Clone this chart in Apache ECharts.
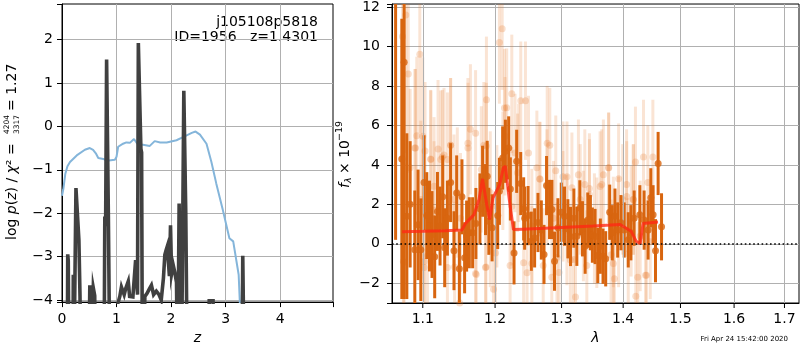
<!DOCTYPE html>
<html>
<head>
<meta charset="utf-8">
<script src="https://cdn.jsdelivr.net/npm/echarts@6/dist/echarts.min.js"></script>
<style>
  html, body { margin: 0; padding: 0; background: #fff; }
  #chart { width: 800px; height: 350px; }
</style>
</head>
<body>
<div id="chart"></div>
<script>
// ---- left panel: log p(z) and scaled chi2 ----
const pzZ = [0.00, 0.095, 0.105, 0.115, 0.13, 0.20, 0.207, 0.215, 0.245, 0.256, 0.29, 0.31, 0.33, 0.35,
  0.49, 0.51, 0.53, 0.56, 0.574, 0.60, 0.615, 0.77, 0.785, 0.80, 0.818, 0.836, 0.85, 0.867, 0.88,
  1.00, 1.02, 1.06, 1.09, 1.14, 1.17, 1.215, 1.24, 1.30, 1.33, 1.35, 1.37, 1.385, 1.40, 1.43, 1.447, 1.46, 1.475,
  1.50, 1.52, 1.56, 1.60, 1.64, 1.68, 1.73, 1.78, 1.82, 1.86, 1.886, 1.91, 1.93, 1.97, 1.99, 2.01, 2.04, 2.07, 2.10, 2.12,
  2.14, 2.148, 2.17, 2.19, 2.22, 2.234, 2.255, 2.27, 2.28, 2.30, 2.68, 2.70, 2.77, 2.78, 3.30, 3.315, 3.33, 3.345]
const pzLog = [-6, -6, -2.95, -3.1, -6, -6, -3.42, -6, -6, -1.42, -1.40, -2.62, -3.9, -6,
  -6, -3.66, -6, -6, -3.72, -3.9, -6, -6, -2.08, -2.3, 1.54, 1.54, -2.0, -2.01, -6,
  -6, -4.1, -3.92, -3.7, -3.88, -3.73, -3.57, -3.92, -3.93, -3.9, -3.08, -3.1, -3.88, 1.92, 1.92, -0.52, -0.6, -6,
  -6, -3.92, -3.85, -3.75, -3.66, -3.88, -3.8, -3.88, -4.0, -3.5, -2.96, -2.85, -2.77, -3.45, -2.28, -3.4, -3.2, -3.37, -3.6, -6,
  -6, -1.78, -1.8, -6, -6, 0.82, 0.82, -2.0, -2.0, -6, -6, -4.02, -4.02, -6, -6, -2.98, -2.98, -6]

const chiZ = [0.00, 0.024, 0.06, 0.10, 0.147, 0.27, 0.42, 0.51, 0.57, 0.62, 0.665, 0.757, 0.82, 0.97, 1.00, 1.03,
  1.12, 1.18, 1.245, 1.32, 1.38, 1.46, 1.61, 1.70, 1.80, 1.92, 2.10, 2.22, 2.38, 2.45, 2.53, 2.65, 2.74, 2.83,
  2.95, 3.07, 3.14, 3.24, 3.28]
const chiScaled = [-1.6, -1.45, -1.1, -0.92, -0.82, -0.67, -0.54, -0.50, -0.54, -0.62, -0.73, -0.75, -0.79, -0.77, -0.7, -0.47,
  -0.40, -0.37, -0.38, -0.29, -0.40, -0.42, -0.45, -0.34, -0.37, -0.37, -0.32, -0.25, -0.15, -0.12, -0.19, -0.40, -0.82, -1.32,
  -1.93, -2.58, -2.65, -3.42, -4.6]

// ---- right panel: spectrum ----
const lamDark = [1.0646, 1.0726, 1.0756, 1.0791, 1.0834, 1.0895, 1.0938, 1.0974, 1.1017, 1.1053, 1.1089, 1.1123, 1.1159,
  1.1196, 1.1231, 1.1267, 1.1294, 1.1331, 1.1375, 1.1421, 1.1458, 1.1495, 1.1531, 1.1568, 1.1596, 1.1634, 1.1680,
  1.1726, 1.1783, 1.1821, 1.1863, 1.1887, 1.1910, 1.1957, 1.2038, 1.2063, 1.2110, 1.2150, 1.2198, 1.2223, 1.2277,
  1.2316, 1.2376, 1.2420, 1.2435, 1.2486, 1.2535, 1.2585, 1.2636, 1.2687, 1.2728, 1.2767, 1.2813, 1.2850, 1.2890,
  1.2943, 1.2995, 1.3046, 1.3099, 1.3140, 1.3194, 1.3241, 1.3289, 1.3331, 1.3374, 1.3417, 1.3459, 1.3491, 1.3535,
  1.3579, 1.3621, 1.3665, 1.3709, 1.3775, 1.3818, 1.3863, 1.3908, 1.3963, 1.4018, 1.4086, 1.4131, 1.4187, 1.4284,
  1.4358, 1.4427, 1.4474, 1.4514, 1.4556, 1.4602, 1.4662]
const fluxDark = [13.0, 4.3, 9.2, 1.4, 2.0, -0.3, 0.96, -0.3, 3.1, 1.43, 0.9, 0.47, -0.66,
  1.64, 0.9, 2.38, -0.2, 1.3, 3.1, -0.35, 2.58, -1.27, 2.38, -0.71, 0.39, 0.56, 0.56,
  1.03, 1.77, 3.17, 2.24, 3.42, 1.14, 0.81, 1.43, 2.66, 4.35, 4.69, 4.86, 2.78, -0.46,
  4.18, 3.05, 1.77, 1.3, 1.43, 0.13, 0.3, 1.08, 0.7, -0.54, 2.95, 1.74, 1.74, -0.88,
  0.81, 1.6, 1.4, 0.76, 0.37, 1.3, 0.38, 1.82, 0.76, -0.12, 1.2, 1.07, 0.44, 0.37,
  -0.59, -0.12, -0.63, -0.76, 1.6, 0.56, 1.4, 0.7, 1.07, 0.7, 0.2, 0.56, 1.3, 1.47,
  1.2, 0.7, 2.33, 1.47, -0.35, 4.07, 0.86]
const errDark = [12.8, 7.1, 12.0, 4.2, 3.2, 3.0, 2.8, 2.6, 2.4, 2.2, 2.3, 2.2, 2.1,
  2.0, 2.0, 2.1, 2.0, 1.9, 2.0, 2.0, 1.9, 1.9, 1.9, 1.8, 1.8, 1.8, 1.8,
  1.8, 1.8, 1.8, 1.8, 1.8, 1.7, 1.7, 1.7, 1.7, 1.6, 1.6, 1.6, 1.6, 1.6,
  1.6, 1.6, 1.6, 1.6, 1.5, 1.5, 1.5, 1.5, 1.5, 1.5, 1.5, 1.5, 1.5, 1.5,
  1.5, 1.5, 1.5, 1.5, 1.5, 1.5, 1.5, 1.4, 1.4, 1.4, 1.4, 1.4, 1.4, 1.4,
  1.4, 1.4, 1.4, 1.4, 1.4, 1.4, 1.4, 1.4, 1.4, 1.4, 1.4, 1.4, 1.4, 1.5,
  1.5, 1.5, 1.5, 1.5, 1.6, 1.6, 1.7]

const lamLight = [1.0735, 1.0778, 1.0810, 1.0747, 1.0834, 1.0895, 1.0961, 1.1000, 1.1030, 1.1020, 1.1106, 1.1150,
  1.1204, 1.1240, 1.1285, 1.1331, 1.1375, 1.1430, 1.1467, 1.1500, 1.1615, 1.1649, 1.1731, 1.1803, 1.1839, 1.1876,
  1.1870, 1.1931, 1.1978, 1.2026, 1.2063, 1.2103, 1.2113, 1.2145, 1.2169, 1.2219, 1.2244, 1.2292, 1.2328, 1.2377,
  1.2447, 1.2493, 1.2543, 1.2619, 1.2665, 1.2716, 1.2777, 1.2817, 1.2848, 1.2909, 1.2960, 1.3022, 1.3085, 1.3138,
  1.3220, 1.3295, 1.3369, 1.3443, 1.3524, 1.3617, 1.3671, 1.3758, 1.3798, 1.3853, 1.3924, 1.3992, 1.4060, 1.4135,
  1.4174, 1.4209, 1.4248, 1.4215, 1.4290, 1.4347, 1.4382, 1.4422, 1.4464, 1.4510,
  1.0921, 1.0904, 1.1106, 1.1263, 1.1375, 1.1614, 1.1722, 1.1873, 1.2136, 1.2346, 1.2665, 1.2774, 1.3022, 1.3163,
  1.3266, 1.3443, 1.3644, 1.3758, 1.3924, 1.4058,
  1.0756, 1.1017, 1.1062, 1.1331, 1.1721, 1.1863, 1.2006, 1.2420, 1.2471, 1.2928, 1.3188, 1.3401, 1.3836, 1.4086, 1.4399,
  1.0974, 1.1150, 1.1421, 1.1511, 1.1931, 1.2244, 1.2543, 1.2875, 1.3084, 1.3346, 1.3563, 1.3836, 1.4170]
const fluxLight = [10.5, 11.6, 8.6, -0.9, 3.85, 4.86, 9.6, 5.45, 4.7, -0.9, 4.27, 2.92,
  4.8, 4.27, 4.5, 4.27, 5.0, -1.17, 2.6, -3.0, 4.86, 5.8, -1.55, 3.77, 5.0, 7.3,
  -1.17, 2.6, -2.3, 1.9, 10.2, 10.9, 3.7, 5.45, 6.9, -1.1, 7.6, 4.6, 3.6, 7.25,
  7.25, 4.6, -1.0, 3.85, 3.27, -1.1, 5.1, 5.0, -1.7, 3.7, -1.46, 1.9, 3.4, -0.82,
  -2.7, 2.25, 3.0, 2.5, 0.77, 2.9, 3.5, 3.85, -0.56, -1.77, 0.6, 2.25, 2.4, 1.14,
  2.25, 4.15, -1.7, -2.66, 0.4, 4.4, -1.6, 3.1, 0.1, 4.4,
  5.48, 4.86, 4.3, 4.4, 5.0, 5.1, 5.6, 4.96, 6.88, 4.1, 3.29, 2.9, 3.4, 2.84,
  3.5, 2.8, 3.0, 3.85, 3.3, 3.0,
  -0.93, -1.2, -0.6, -1.2, -1.5, -1.2, -0.46, -0.96, -1.47, -0.7, -0.8, -1.1, -1.0, -0.5, -1.6,
  2.24, 1.7, 2.24, 1.3, 0.9, 1.9, 0.9, 1.3, 0.7, 0.9, 0.56, 0.6, 2.24]
const errLight = [6.0, 7.0, 5.0, 5.0, 4.0, 4.0, 4.0, 4.0, 3.5, 3.5, 3.5, 3.5,
  3.5, 3.5, 3.4, 3.4, 3.4, 3.3, 3.3, 3.3, 3.3, 3.3, 3.2, 3.2, 3.2, 3.2,
  3.2, 3.1, 3.1, 3.1, 3.1, 3.1, 3.0, 3.0, 3.0, 3.0, 3.0, 3.0, 3.0, 3.0,
  3.0, 2.9, 2.9, 2.9, 2.9, 2.9, 2.9, 2.9, 2.9, 2.8, 2.8, 2.8, 2.8, 2.8,
  2.8, 2.8, 2.8, 2.8, 2.8, 2.8, 2.8, 2.8, 2.8, 2.8, 2.8, 2.8, 2.8, 2.8,
  2.8, 2.8, 2.8, 2.8, 2.8, 2.9, 2.9, 2.9, 2.9, 2.9,
  4.0, 4.0, 3.5, 3.4, 3.4, 3.3, 3.2, 3.2, 3.0, 3.0, 2.9, 2.9, 2.8, 2.8,
  2.8, 2.8, 2.8, 2.8, 2.8, 2.8,
  5.0, 3.5, 3.5, 3.4, 3.2, 3.2, 3.1, 2.9, 2.9, 2.8, 2.8, 2.8, 2.8, 2.8, 2.9,
  4.0, 3.5, 3.3, 3.3, 3.1, 3.0, 2.9, 2.9, 2.8, 2.8, 2.8, 2.8, 2.8]

const lamModel = [1.073, 1.10, 1.13, 1.153, 1.158, 1.170, 1.177, 1.182, 1.188, 1.192, 1.197, 1.2067, 1.212, 1.215,
  1.2207, 1.2268, 1.24, 1.30, 1.35, 1.395, 1.4135, 1.422, 1.429, 1.434, 1.46]
const fluxModel = [0.61, 0.63, 0.66, 0.70, 1.03, 1.48, 2.24, 3.29, 1.99, 1.23, 2.33, 3.0, 3.85, 3.93,
  2.24, 0.72, 0.74, 0.83, 0.9, 0.98, 0.64, 0.13, 0.02, 1.03, 1.1]

const lamTicks = [1.1, 1.2, 1.3, 1.4, 1.5, 1.6, 1.7]

const FONT = 'DejaVu Sans'
const GRID_GRAY = '#b0b0b0'
const DARK = '#d8650f'

function intLabel(step) {
  return (v) => {
    const r = Math.round(v)
    if (Math.abs(v - r) > 1e-6 || r % step !== 0) return ''
    return String(r).replace('-', '\u2212')
  }
}

function axisBase() {
  return {
    axisLine: { show: true, onZero: false, lineStyle: { color: '#000', width: 1 } },
    axisTick: { show: true, length: 5, lineStyle: { color: '#000', width: 1 } },
    axisLabel: { color: '#000', fontSize: 14, fontFamily: FONT },
    splitLine: { show: true, showMinLine: false, showMaxLine: false, lineStyle: { color: GRID_GRAY, width: 1 } },
  }
}

/** error bars drawn as thin rects, clipped to the grid */
function errorBars(lam, flux, err, color, width, z) {
  return {
    type: 'custom',
    xAxisIndex: 1,
    yAxisIndex: 1,
    z,
    silent: true,
    animation: false,
    encode: { x: 0, y: [1, 2] },
    data: lam.map((l, i) => [l, flux[i] - err[i], flux[i] + err[i]]),
    renderItem(params, api) {
      const x = api.value(0)
      const lo = api.coord([x, api.value(1)])
      const hi = api.coord([x, api.value(2)])
      const cs = params.coordSys
      const shape = echarts.graphic.clipRectByRect(
        { x: lo[0] - width / 2, y: hi[1], width, height: lo[1] - hi[1] },
        { x: cs.x, y: cs.y, width: cs.width, height: cs.height },
      )
      return shape && { type: 'rect', shape, style: { fill: color } }
    },
  }
}

const chart = echarts.init(document.getElementById('chart'), null, { renderer: 'canvas' })

const option = {
  animation: false,
  textStyle: { fontFamily: FONT },
  grid: [
    { left: 62, top: 4, width: 271, height: 300, show: true, borderColor: '#000', borderWidth: 1, backgroundColor: 'transparent' },
    { left: 392, top: 4, width: 407, height: 300, show: true, borderColor: '#000', borderWidth: 1, backgroundColor: 'transparent' },
  ],
  xAxis: [
    {
      ...axisBase(),
      gridIndex: 0,
      type: 'value',
      min: 0,
      max: 4.97,
      interval: 1,
      axisLabel: { ...axisBase().axisLabel, margin: 10, formatter: intLabel(1) },
      name: 'z',
      nameLocation: 'middle',
      nameGap: 28,
      nameTextStyle: { fontSize: 14, fontStyle: 'italic', color: '#000', fontFamily: FONT },
    },
    {
      gridIndex: 1,
      type: 'log',
      logBase: 10,
      min: 1.06,
      max: 1.73,
      axisLine: { show: true, onZero: false, lineStyle: { color: '#000', width: 1 } },
      axisTick: { show: false },
      axisLabel: { show: false },
      splitLine: { show: false },
      minorSplitLine: { show: false },
      name: 'λ',
      nameLocation: 'middle',
      nameGap: 28,
      nameTextStyle: { fontSize: 14, fontStyle: 'italic', color: '#000', fontFamily: FONT },
    },
  ],
  yAxis: [
    {
      ...axisBase(),
      gridIndex: 0,
      type: 'value',
      min: -4.05,
      max: 2.82,
      splitNumber: 7,
      axisLabel: { ...axisBase().axisLabel, margin: 9, formatter: intLabel(1) },
    },
    {
      ...axisBase(),
      gridIndex: 1,
      type: 'value',
      min: -3,
      max: 12.15,
      splitNumber: 8,
      axisLabel: { ...axisBase().axisLabel, margin: 12, formatter: intLabel(2) },
    },
  ],
  series: [
    {
      name: 'chi2',
      type: 'line',
      xAxisIndex: 0,
      yAxisIndex: 0,
      data: chiZ.map((z, i) => [z, chiScaled[i]]),
      showSymbol: false,
      clip: true,
      z: 2,
      lineStyle: { color: '#84b5da', width: 2 },
    },
    {
      name: 'pz',
      type: 'line',
      xAxisIndex: 0,
      yAxisIndex: 0,
      data: pzZ.map((z, i) => [z, pzLog[i]]),
      showSymbol: false,
      clip: true,
      z: 3,
      lineStyle: { color: '#404040', width: 3.6, join: 'miter' },
    },
    {
      // carrier for the wavelength grid lines and tick labels
      name: 'lamGrid',
      type: 'scatter',
      xAxisIndex: 1,
      yAxisIndex: 1,
      symbolSize: 0,
      z: 1,
      silent: true,
      data: lamTicks.map(t => [t, 0]),
      markLine: {
        silent: true,
        animation: false,
        symbol: ['none', 'none'],
        lineStyle: { color: GRID_GRAY, width: 1, type: 'solid' },
        emphasis: { disabled: true },
        label: {
          show: true,
          position: 'start',
          distance: 0,
          formatter: p => `{t|}\n{n|${p.value}}`,
          rich: {
            t: { width: 1, height: 5, backgroundColor: '#000' },
            n: { fontSize: 14, color: '#000', fontFamily: FONT, padding: [4, 0, 0, 0] },
          },
        },
        data: lamTicks.map(t => ({ xAxis: t })),
      },
    },
    errorBars(lamLight, fluxLight, errLight, 'rgba(232,120,40,0.2)', 3, 2),
    {
      name: 'light',
      type: 'scatter',
      xAxisIndex: 1,
      yAxisIndex: 1,
      z: 3,
      symbolSize: 7,
      silent: true,
      itemStyle: { color: 'rgba(232,120,40,0.3)' },
      data: lamLight.map((l, i) => [l, fluxLight[i]]),
    },
    errorBars(lamDark, fluxDark, errDark, DARK, 3, 4),
    {
      name: 'dark',
      type: 'scatter',
      xAxisIndex: 1,
      yAxisIndex: 1,
      z: 5,
      symbolSize: 7,
      silent: true,
      itemStyle: { color: DARK },
      data: lamDark.map((l, i) => [l, fluxDark[i]]),
    },
    {
      name: 'model',
      type: 'line',
      xAxisIndex: 1,
      yAxisIndex: 1,
      z: 6,
      showSymbol: false,
      silent: true,
      lineStyle: { color: 'rgba(255,40,20,0.78)', width: 3 },
      data: lamModel.map((l, i) => [l, fluxModel[i]]),
      markLine: {
        silent: true,
        animation: false,
        symbol: ['none', 'none'],
        label: { show: false },
        emphasis: { disabled: true },
        lineStyle: { color: '#000', width: 1.6, type: [1.6, 2.6], cap: 'butt' },
        data: [{ yAxis: 0 }],
      },
    },
  ],
  graphic: [
    {
      type: 'text',
      style: { text: 'j105108p5818', x: 318, y: 22, align: 'right', verticalAlign: 'middle', fontSize: 14, fontFamily: FONT, fill: '#000' },
    },
    {
      type: 'text',
      style: { text: 'ID=1956   z=1.4301', x: 318, y: 37, align: 'right', verticalAlign: 'middle', fontSize: 14, fontFamily: FONT, fill: '#000' },
    },
    {
      type: 'group',
      x: 12,
      y: 240,
      rotation: Math.PI / 2,
      children: [
        {
          type: 'text',
          style: {
            text: 'log {i|p}({i|z}) / {i|χ}² =',
            x: 0, y: 0, align: 'left', verticalAlign: 'middle', fontSize: 14, fontFamily: FONT, fill: '#000',
            rich: { i: { fontStyle: 'italic', fontSize: 14, fontFamily: FONT } },
          },
        },
        { type: 'text', style: { text: '4204', x: 106, y: -5, align: 'left', verticalAlign: 'middle', fontSize: 7.5, fontFamily: FONT, fill: '#000' } },
        { type: 'text', style: { text: '3317', x: 106, y: 5, align: 'left', verticalAlign: 'middle', fontSize: 7.5, fontFamily: FONT, fill: '#000' } },
        { type: 'text', style: { text: '= 1.27', x: 129, y: 0, align: 'left', verticalAlign: 'middle', fontSize: 14, fontFamily: FONT, fill: '#000' } },
      ],
    },
    {
      type: 'group',
      x: 345,
      y: 188,
      rotation: Math.PI / 2,
      children: [
        { type: 'text', style: { text: 'f', x: 0, y: 0, align: 'left', verticalAlign: 'middle', fontSize: 14, fontStyle: 'italic', fontFamily: FONT, fill: '#000' } },
        { type: 'text', style: { text: 'λ', x: 5, y: 4, align: 'left', verticalAlign: 'middle', fontSize: 9.5, fontStyle: 'italic', fontFamily: FONT, fill: '#000' } },
        { type: 'text', style: { text: '× 10', x: 14, y: 0, align: 'left', verticalAlign: 'middle', fontSize: 14, fontFamily: FONT, fill: '#000' } },
        { type: 'text', style: { text: '−19', x: 47, y: -5, align: 'left', verticalAlign: 'middle', fontSize: 9.5, fontFamily: FONT, fill: '#000' } },
      ],
    },
    {
      type: 'text',
      style: { text: 'Fri Apr 24 15:42:00 2020', x: 788, y: 339, align: 'right', verticalAlign: 'middle', fontSize: 7, fontFamily: FONT, fill: '#000' },
    },
  ],
}

chart.setOption(option)
</script>
</body>
</html>
